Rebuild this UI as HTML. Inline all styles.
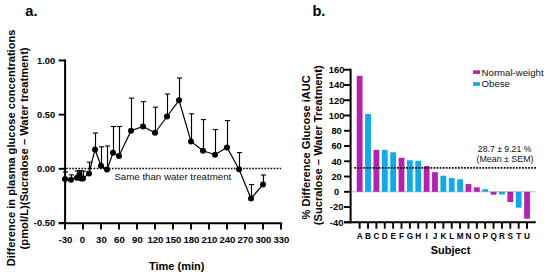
<!DOCTYPE html>
<html><head><meta charset="utf-8"><style>
html,body{margin:0;padding:0;background:#fff;width:550px;height:278px;overflow:hidden}
svg{display:block}
text{font-family:"Liberation Sans", sans-serif}
</style></head><body>
<svg width="550" height="278" viewBox="0 0 550 278">
<text x="25.3" y="16.0" font-size="14.6" font-weight="bold">a.</text>
<line x1="65.1" y1="59.47" x2="65.1" y2="224.2" stroke="#000" stroke-width="2"/>
<line x1="58.7" y1="60.47" x2="65.1" y2="60.47" stroke="#000" stroke-width="1.9"/>
<text x="55.2" y="63.77" font-size="9.4" font-weight="bold" text-anchor="end">1.00</text>
<line x1="58.7" y1="114.64" x2="65.1" y2="114.64" stroke="#000" stroke-width="1.9"/>
<text x="55.2" y="117.94" font-size="9.4" font-weight="bold" text-anchor="end">0.50</text>
<line x1="58.7" y1="168.80" x2="65.1" y2="168.80" stroke="#000" stroke-width="1.9"/>
<text x="55.2" y="172.10" font-size="9.4" font-weight="bold" text-anchor="end">0.00</text>
<line x1="58.7" y1="222.97" x2="65.1" y2="222.97" stroke="#000" stroke-width="1.9"/>
<text x="55.2" y="226.27" font-size="9.4" font-weight="bold" text-anchor="end">-0.50</text>
<line x1="58.7" y1="223.2" x2="282.2" y2="223.2" stroke="#000" stroke-width="1.9"/>
<line x1="65.00" y1="223.2" x2="65.00" y2="229.6" stroke="#000" stroke-width="1.9"/>
<text x="65.40" y="243.4" font-size="9.6" font-weight="bold" text-anchor="middle">-30</text>
<line x1="83.00" y1="223.2" x2="83.00" y2="229.6" stroke="#000" stroke-width="1.9"/>
<text x="82.40" y="243.4" font-size="9.6" font-weight="bold" text-anchor="middle">0</text>
<line x1="101.00" y1="223.2" x2="101.00" y2="229.6" stroke="#000" stroke-width="1.9"/>
<text x="101.40" y="243.4" font-size="9.6" font-weight="bold" text-anchor="middle">30</text>
<line x1="119.00" y1="223.2" x2="119.00" y2="229.6" stroke="#000" stroke-width="1.9"/>
<text x="119.40" y="243.4" font-size="9.6" font-weight="bold" text-anchor="middle">60</text>
<line x1="137.00" y1="223.2" x2="137.00" y2="229.6" stroke="#000" stroke-width="1.9"/>
<text x="137.40" y="243.4" font-size="9.6" font-weight="bold" text-anchor="middle">90</text>
<line x1="155.00" y1="223.2" x2="155.00" y2="229.6" stroke="#000" stroke-width="1.9"/>
<text x="155.40" y="243.4" font-size="9.6" font-weight="bold" text-anchor="middle">120</text>
<line x1="173.00" y1="223.2" x2="173.00" y2="229.6" stroke="#000" stroke-width="1.9"/>
<text x="173.40" y="243.4" font-size="9.6" font-weight="bold" text-anchor="middle">150</text>
<line x1="191.00" y1="223.2" x2="191.00" y2="229.6" stroke="#000" stroke-width="1.9"/>
<text x="191.40" y="243.4" font-size="9.6" font-weight="bold" text-anchor="middle">180</text>
<line x1="209.00" y1="223.2" x2="209.00" y2="229.6" stroke="#000" stroke-width="1.9"/>
<text x="209.40" y="243.4" font-size="9.6" font-weight="bold" text-anchor="middle">210</text>
<line x1="227.00" y1="223.2" x2="227.00" y2="229.6" stroke="#000" stroke-width="1.9"/>
<text x="227.40" y="243.4" font-size="9.6" font-weight="bold" text-anchor="middle">240</text>
<line x1="245.00" y1="223.2" x2="245.00" y2="229.6" stroke="#000" stroke-width="1.9"/>
<text x="245.40" y="243.4" font-size="9.6" font-weight="bold" text-anchor="middle">270</text>
<line x1="263.00" y1="223.2" x2="263.00" y2="229.6" stroke="#000" stroke-width="1.9"/>
<text x="263.40" y="243.4" font-size="9.6" font-weight="bold" text-anchor="middle">300</text>
<line x1="281.00" y1="223.2" x2="281.00" y2="229.6" stroke="#000" stroke-width="1.9"/>
<text x="281.40" y="243.4" font-size="9.6" font-weight="bold" text-anchor="middle">330</text>
<text x="176.7" y="270.2" font-size="11" font-weight="bold" text-anchor="middle">Time (min)</text>
<text transform="translate(14.9,147.9) rotate(-90)" font-size="11.13" font-weight="bold" text-anchor="middle">Difference in plasma glucose concentrations</text>
<text transform="translate(27.6,148.4) rotate(-90)" font-size="11.18" font-weight="bold" text-anchor="middle">(pmol/L)(Sucralose – Water treatment)</text>
<line x1="66.2" y1="168.5" x2="281" y2="168.5" stroke="#000" stroke-width="1.6" stroke-dasharray="1.6 1.45"/>
<text x="114.4" y="179.9" font-size="9.7" fill="#111">Same than water treatment</text>
<line x1="65.50" y1="178.90" x2="65.50" y2="172.00" stroke="#000" stroke-width="1.15"/>
<line x1="62.90" y1="172.00" x2="68.10" y2="172.00" stroke="#000" stroke-width="1.1"/>
<line x1="71.50" y1="179.80" x2="71.50" y2="174.80" stroke="#000" stroke-width="1.15"/>
<line x1="68.90" y1="174.80" x2="74.10" y2="174.80" stroke="#000" stroke-width="1.1"/>
<line x1="77.50" y1="177.80" x2="77.50" y2="171.00" stroke="#000" stroke-width="1.15"/>
<line x1="74.90" y1="171.00" x2="80.10" y2="171.00" stroke="#000" stroke-width="1.1"/>
<line x1="79.50" y1="174.60" x2="79.50" y2="170.50" stroke="#000" stroke-width="1.15"/>
<line x1="76.90" y1="170.50" x2="82.10" y2="170.50" stroke="#000" stroke-width="1.1"/>
<line x1="81.50" y1="178.60" x2="81.50" y2="170.80" stroke="#000" stroke-width="1.15"/>
<line x1="78.90" y1="170.80" x2="84.10" y2="170.80" stroke="#000" stroke-width="1.1"/>
<line x1="83.50" y1="178.50" x2="83.50" y2="171.20" stroke="#000" stroke-width="1.15"/>
<line x1="80.90" y1="171.20" x2="86.10" y2="171.20" stroke="#000" stroke-width="1.1"/>
<line x1="89.50" y1="173.40" x2="89.50" y2="162.20" stroke="#000" stroke-width="1.15"/>
<line x1="86.90" y1="162.20" x2="92.10" y2="162.20" stroke="#000" stroke-width="1.1"/>
<line x1="95.50" y1="149.60" x2="95.50" y2="133.00" stroke="#000" stroke-width="1.15"/>
<line x1="92.90" y1="133.00" x2="98.10" y2="133.00" stroke="#000" stroke-width="1.1"/>
<line x1="101.50" y1="165.80" x2="101.50" y2="146.80" stroke="#000" stroke-width="1.15"/>
<line x1="98.90" y1="146.80" x2="104.10" y2="146.80" stroke="#000" stroke-width="1.1"/>
<line x1="107.50" y1="169.60" x2="107.50" y2="146.00" stroke="#000" stroke-width="1.15"/>
<line x1="104.90" y1="146.00" x2="110.10" y2="146.00" stroke="#000" stroke-width="1.1"/>
<line x1="113.50" y1="152.80" x2="113.50" y2="126.50" stroke="#000" stroke-width="1.15"/>
<line x1="110.90" y1="126.50" x2="116.10" y2="126.50" stroke="#000" stroke-width="1.1"/>
<line x1="119.50" y1="155.90" x2="119.50" y2="126.50" stroke="#000" stroke-width="1.15"/>
<line x1="116.90" y1="126.50" x2="122.10" y2="126.50" stroke="#000" stroke-width="1.1"/>
<line x1="131.50" y1="130.70" x2="131.50" y2="98.10" stroke="#000" stroke-width="1.15"/>
<line x1="128.90" y1="98.10" x2="134.10" y2="98.10" stroke="#000" stroke-width="1.1"/>
<line x1="143.50" y1="126.50" x2="143.50" y2="101.70" stroke="#000" stroke-width="1.15"/>
<line x1="140.90" y1="101.70" x2="146.10" y2="101.70" stroke="#000" stroke-width="1.1"/>
<line x1="155.50" y1="132.80" x2="155.50" y2="107.20" stroke="#000" stroke-width="1.15"/>
<line x1="152.90" y1="107.20" x2="158.10" y2="107.20" stroke="#000" stroke-width="1.1"/>
<line x1="167.50" y1="116.50" x2="167.50" y2="94.00" stroke="#000" stroke-width="1.15"/>
<line x1="164.90" y1="94.00" x2="170.10" y2="94.00" stroke="#000" stroke-width="1.1"/>
<line x1="179.50" y1="100.30" x2="179.50" y2="78.00" stroke="#000" stroke-width="1.15"/>
<line x1="176.90" y1="78.00" x2="182.10" y2="78.00" stroke="#000" stroke-width="1.1"/>
<line x1="191.50" y1="141.40" x2="191.50" y2="113.80" stroke="#000" stroke-width="1.15"/>
<line x1="188.90" y1="113.80" x2="194.10" y2="113.80" stroke="#000" stroke-width="1.1"/>
<line x1="203.50" y1="150.70" x2="203.50" y2="119.60" stroke="#000" stroke-width="1.15"/>
<line x1="200.90" y1="119.60" x2="206.10" y2="119.60" stroke="#000" stroke-width="1.1"/>
<line x1="215.50" y1="154.70" x2="215.50" y2="129.50" stroke="#000" stroke-width="1.15"/>
<line x1="212.90" y1="129.50" x2="218.10" y2="129.50" stroke="#000" stroke-width="1.1"/>
<line x1="227.50" y1="147.40" x2="227.50" y2="120.60" stroke="#000" stroke-width="1.15"/>
<line x1="224.90" y1="120.60" x2="230.10" y2="120.60" stroke="#000" stroke-width="1.1"/>
<line x1="239.50" y1="169.20" x2="239.50" y2="152.60" stroke="#000" stroke-width="1.15"/>
<line x1="236.90" y1="152.60" x2="242.10" y2="152.60" stroke="#000" stroke-width="1.1"/>
<line x1="251.50" y1="198.50" x2="251.50" y2="184.50" stroke="#000" stroke-width="1.15"/>
<line x1="248.90" y1="184.50" x2="254.10" y2="184.50" stroke="#000" stroke-width="1.1"/>
<line x1="263.50" y1="184.60" x2="263.50" y2="175.00" stroke="#000" stroke-width="1.15"/>
<line x1="260.90" y1="175.00" x2="266.10" y2="175.00" stroke="#000" stroke-width="1.1"/>
<polyline points="65.00,178.90 71.00,179.80 77.00,177.80 79.40,174.60 81.20,178.60 83.00,178.50 89.00,173.40 95.00,149.60 101.00,165.80 107.00,169.60 113.00,152.80 119.00,155.90 131.00,130.70 143.00,126.50 155.00,132.80 167.00,116.50 179.00,100.30 191.00,141.40 203.00,150.70 215.00,154.70 227.00,147.40 239.00,169.20 251.00,198.50 263.00,184.60" fill="none" stroke="#000" stroke-width="1.2"/>
<circle cx="65.00" cy="178.90" r="3.0" fill="#000"/>
<circle cx="71.00" cy="179.80" r="3.0" fill="#000"/>
<circle cx="77.00" cy="177.80" r="3.0" fill="#000"/>
<circle cx="79.40" cy="174.60" r="3.0" fill="#000"/>
<circle cx="81.20" cy="178.60" r="3.0" fill="#000"/>
<circle cx="83.00" cy="178.50" r="3.0" fill="#000"/>
<circle cx="89.00" cy="173.40" r="3.0" fill="#000"/>
<circle cx="95.00" cy="149.60" r="3.0" fill="#000"/>
<circle cx="101.00" cy="165.80" r="3.0" fill="#000"/>
<circle cx="107.00" cy="169.60" r="3.0" fill="#000"/>
<circle cx="113.00" cy="152.80" r="3.0" fill="#000"/>
<circle cx="119.00" cy="155.90" r="3.0" fill="#000"/>
<circle cx="131.00" cy="130.70" r="3.0" fill="#000"/>
<circle cx="143.00" cy="126.50" r="3.0" fill="#000"/>
<circle cx="155.00" cy="132.80" r="3.0" fill="#000"/>
<circle cx="167.00" cy="116.50" r="3.0" fill="#000"/>
<circle cx="179.00" cy="100.30" r="3.0" fill="#000"/>
<circle cx="191.00" cy="141.40" r="3.0" fill="#000"/>
<circle cx="203.00" cy="150.70" r="3.0" fill="#000"/>
<circle cx="215.00" cy="154.70" r="3.0" fill="#000"/>
<circle cx="227.00" cy="147.40" r="3.0" fill="#000"/>
<circle cx="239.00" cy="169.20" r="3.0" fill="#000"/>
<circle cx="251.00" cy="198.50" r="3.0" fill="#000"/>
<circle cx="263.00" cy="184.60" r="3.0" fill="#000"/>
<text x="312.4" y="16.0" font-size="14.6" font-weight="bold">b.</text>
<line x1="350.6" y1="191.8" x2="535.8" y2="191.8" stroke="#b4b8bc" stroke-width="1"/>
<rect x="356.75" y="75.82" width="5.8" height="115.98" fill="#B81FB3"/>
<line x1="359.65" y1="222.3" x2="359.65" y2="228.7" stroke="#000" stroke-width="1.9"/>
<text x="359.65" y="239.2" font-size="8.2" font-weight="bold" text-anchor="middle">A</text>
<rect x="365.12" y="113.97" width="5.8" height="77.83" fill="#0AACEA"/>
<line x1="368.02" y1="222.3" x2="368.02" y2="228.7" stroke="#000" stroke-width="1.9"/>
<text x="368.02" y="239.2" font-size="8.2" font-weight="bold" text-anchor="middle">B</text>
<rect x="373.49" y="149.91" width="5.8" height="41.89" fill="#B81FB3"/>
<line x1="376.39" y1="222.3" x2="376.39" y2="228.7" stroke="#000" stroke-width="1.9"/>
<text x="376.39" y="239.2" font-size="8.2" font-weight="bold" text-anchor="middle">C</text>
<rect x="381.86" y="149.91" width="5.8" height="41.89" fill="#0AACEA"/>
<line x1="384.76" y1="222.3" x2="384.76" y2="228.7" stroke="#000" stroke-width="1.9"/>
<text x="384.76" y="239.2" font-size="8.2" font-weight="bold" text-anchor="middle">D</text>
<rect x="390.23" y="152.28" width="5.8" height="39.52" fill="#0AACEA"/>
<line x1="393.13" y1="222.3" x2="393.13" y2="228.7" stroke="#000" stroke-width="1.9"/>
<text x="393.13" y="239.2" font-size="8.2" font-weight="bold" text-anchor="middle">E</text>
<rect x="398.60" y="157.77" width="5.8" height="34.03" fill="#B81FB3"/>
<line x1="401.50" y1="222.3" x2="401.50" y2="228.7" stroke="#000" stroke-width="1.9"/>
<text x="401.50" y="239.2" font-size="8.2" font-weight="bold" text-anchor="middle">F</text>
<rect x="406.97" y="160.21" width="5.8" height="31.59" fill="#0AACEA"/>
<line x1="409.87" y1="222.3" x2="409.87" y2="228.7" stroke="#000" stroke-width="1.9"/>
<text x="409.87" y="239.2" font-size="8.2" font-weight="bold" text-anchor="middle">G</text>
<rect x="415.34" y="160.82" width="5.8" height="30.98" fill="#0AACEA"/>
<line x1="418.24" y1="222.3" x2="418.24" y2="228.7" stroke="#000" stroke-width="1.9"/>
<text x="418.24" y="239.2" font-size="8.2" font-weight="bold" text-anchor="middle">H</text>
<rect x="423.71" y="166.01" width="5.8" height="25.79" fill="#B81FB3"/>
<line x1="426.61" y1="222.3" x2="426.61" y2="228.7" stroke="#000" stroke-width="1.9"/>
<text x="426.61" y="239.2" font-size="8.2" font-weight="bold" text-anchor="middle">I</text>
<rect x="432.08" y="172.19" width="5.8" height="19.61" fill="#B81FB3"/>
<line x1="434.98" y1="222.3" x2="434.98" y2="228.7" stroke="#000" stroke-width="1.9"/>
<text x="434.98" y="239.2" font-size="8.2" font-weight="bold" text-anchor="middle">J</text>
<rect x="440.45" y="175.70" width="5.8" height="16.10" fill="#0AACEA"/>
<line x1="443.35" y1="222.3" x2="443.35" y2="228.7" stroke="#000" stroke-width="1.9"/>
<text x="443.35" y="239.2" font-size="8.2" font-weight="bold" text-anchor="middle">K</text>
<rect x="448.82" y="178.07" width="5.8" height="13.73" fill="#0AACEA"/>
<line x1="451.72" y1="222.3" x2="451.72" y2="228.7" stroke="#000" stroke-width="1.9"/>
<text x="451.72" y="239.2" font-size="8.2" font-weight="bold" text-anchor="middle">L</text>
<rect x="457.19" y="179.29" width="5.8" height="12.51" fill="#0AACEA"/>
<line x1="460.09" y1="222.3" x2="460.09" y2="228.7" stroke="#000" stroke-width="1.9"/>
<text x="460.09" y="239.2" font-size="8.2" font-weight="bold" text-anchor="middle">M</text>
<rect x="465.56" y="184.02" width="5.8" height="7.78" fill="#B81FB3"/>
<line x1="468.46" y1="222.3" x2="468.46" y2="228.7" stroke="#000" stroke-width="1.9"/>
<text x="468.46" y="239.2" font-size="8.2" font-weight="bold" text-anchor="middle">N</text>
<rect x="473.93" y="187.30" width="5.8" height="4.50" fill="#B81FB3"/>
<line x1="476.83" y1="222.3" x2="476.83" y2="228.7" stroke="#000" stroke-width="1.9"/>
<text x="476.83" y="239.2" font-size="8.2" font-weight="bold" text-anchor="middle">O</text>
<rect x="482.30" y="189.13" width="5.8" height="2.67" fill="#0AACEA"/>
<line x1="485.20" y1="222.3" x2="485.20" y2="228.7" stroke="#000" stroke-width="1.9"/>
<text x="485.20" y="239.2" font-size="8.2" font-weight="bold" text-anchor="middle">P</text>
<rect x="490.67" y="191.80" width="5.8" height="2.90" fill="#B81FB3"/>
<line x1="493.57" y1="222.3" x2="493.57" y2="228.7" stroke="#000" stroke-width="1.9"/>
<text x="493.57" y="239.2" font-size="8.2" font-weight="bold" text-anchor="middle">Q</text>
<rect x="499.04" y="191.80" width="5.8" height="2.67" fill="#0AACEA"/>
<line x1="501.94" y1="222.3" x2="501.94" y2="228.7" stroke="#000" stroke-width="1.9"/>
<text x="501.94" y="239.2" font-size="8.2" font-weight="bold" text-anchor="middle">R</text>
<rect x="507.41" y="191.80" width="5.8" height="10.22" fill="#B81FB3"/>
<line x1="510.31" y1="222.3" x2="510.31" y2="228.7" stroke="#000" stroke-width="1.9"/>
<text x="510.31" y="239.2" font-size="8.2" font-weight="bold" text-anchor="middle">S</text>
<rect x="515.78" y="191.80" width="5.8" height="15.87" fill="#0AACEA"/>
<line x1="518.68" y1="222.3" x2="518.68" y2="228.7" stroke="#000" stroke-width="1.9"/>
<text x="518.68" y="239.2" font-size="8.2" font-weight="bold" text-anchor="middle">T</text>
<rect x="524.15" y="191.80" width="5.8" height="26.93" fill="#B81FB3"/>
<line x1="527.05" y1="222.3" x2="527.05" y2="228.7" stroke="#000" stroke-width="1.9"/>
<text x="527.05" y="239.2" font-size="8.2" font-weight="bold" text-anchor="middle">U</text>
<line x1="354.3" y1="167.9" x2="537" y2="167.9" stroke="#000" stroke-width="1.7" stroke-dasharray="1.7 1.35"/>
<line x1="350.6" y1="68.72" x2="350.6" y2="223.3" stroke="#000" stroke-width="2"/>
<line x1="344" y1="69.72" x2="350.6" y2="69.72" stroke="#000" stroke-width="1.9"/>
<text x="336.6" y="73.02" font-size="9.4" font-weight="bold" text-anchor="middle">160</text>
<line x1="344" y1="84.98" x2="350.6" y2="84.98" stroke="#000" stroke-width="1.9"/>
<text x="336.6" y="88.28" font-size="9.4" font-weight="bold" text-anchor="middle">140</text>
<line x1="344" y1="100.24" x2="350.6" y2="100.24" stroke="#000" stroke-width="1.9"/>
<text x="336.6" y="103.54" font-size="9.4" font-weight="bold" text-anchor="middle">120</text>
<line x1="344" y1="115.50" x2="350.6" y2="115.50" stroke="#000" stroke-width="1.9"/>
<text x="336.6" y="118.80" font-size="9.4" font-weight="bold" text-anchor="middle">100</text>
<line x1="344" y1="130.76" x2="350.6" y2="130.76" stroke="#000" stroke-width="1.9"/>
<text x="336.6" y="134.06" font-size="9.4" font-weight="bold" text-anchor="middle">80</text>
<line x1="344" y1="146.02" x2="350.6" y2="146.02" stroke="#000" stroke-width="1.9"/>
<text x="336.6" y="149.32" font-size="9.4" font-weight="bold" text-anchor="middle">60</text>
<line x1="344" y1="161.28" x2="350.6" y2="161.28" stroke="#000" stroke-width="1.9"/>
<text x="336.6" y="164.58" font-size="9.4" font-weight="bold" text-anchor="middle">40</text>
<line x1="344" y1="176.54" x2="350.6" y2="176.54" stroke="#000" stroke-width="1.9"/>
<text x="336.6" y="179.84" font-size="9.4" font-weight="bold" text-anchor="middle">20</text>
<line x1="344" y1="191.80" x2="350.6" y2="191.80" stroke="#000" stroke-width="1.9"/>
<text x="336.6" y="195.10" font-size="9.4" font-weight="bold" text-anchor="middle">0</text>
<line x1="344" y1="207.06" x2="350.6" y2="207.06" stroke="#000" stroke-width="1.9"/>
<text x="336.6" y="210.36" font-size="9.4" font-weight="bold" text-anchor="middle">-20</text>
<line x1="344" y1="222.32" x2="350.6" y2="222.32" stroke="#000" stroke-width="1.9"/>
<text x="336.6" y="225.62" font-size="9.4" font-weight="bold" text-anchor="middle">-40</text>
<line x1="344" y1="222.3" x2="535.8" y2="222.3" stroke="#000" stroke-width="1.9"/>
<text x="450.5" y="254.4" font-size="11" font-weight="bold" text-anchor="middle">Subject</text>
<text transform="translate(310,147.3) rotate(-90)" font-size="11.1" font-weight="bold" text-anchor="middle">% Difference Glucose iAUC</text>
<text transform="translate(322.4,145.25) rotate(-90)" font-size="11.15" font-weight="bold" text-anchor="middle">(Sucralose – Water Treatment)</text>
<rect x="473" y="70.3" width="7" height="3.6" fill="#B81FB3"/>
<rect x="473" y="82.2" width="7" height="3.6" fill="#0AACEA"/>
<text x="481.6" y="75.5" font-size="9.65" fill="#111">Normal-weight</text>
<text x="481.6" y="86.9" font-size="9.65" fill="#111">Obese</text>
<text x="504.6" y="151.7" font-size="8.7" fill="#111" text-anchor="middle">28.7 ± 9.21 %</text>
<text x="505" y="162.0" font-size="8.85" fill="#111" text-anchor="middle">(Mean ± SEM)</text>
</svg>
</body></html>
